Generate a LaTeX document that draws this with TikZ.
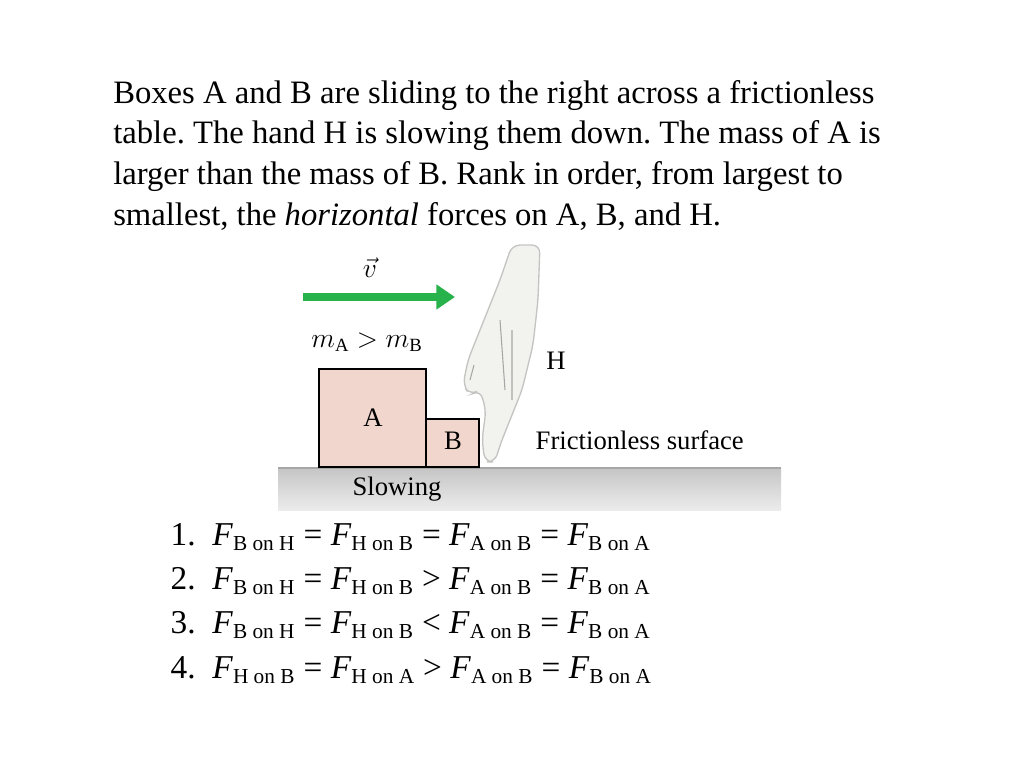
\documentclass[tikz,border=0pt]{standalone}
\usepackage{fontspec}
\setmainfont{Liberation Serif}
\setsansfont{Liberation Sans}
\usetikzlibrary{arrows.meta}
\definecolor{boxpink}{RGB}{240,214,204}
\definecolor{arrgreen}{RGB}{40,178,75}
\definecolor{handfill}{RGB}{242,242,238}
\frenchspacing
\tikzset{
  boxnode/.style={draw, fill=boxpink, line width=1.2pt},
  sflabel/.style={font=\fontsize{20}{20}\selectfont},
  eqline/.style={anchor=west, font=\fontsize{25}{28}\selectfont}
}
\newcommand{\Fsub}[1]{\textit{F}\textsubscript{\fontsize{16}{16}\selectfont #1}}
\begin{document}
\begin{tikzpicture}[x=0.75pt, y=-0.75pt]
\useasboundingbox (0,0) rectangle (1024,768);
% question
\node[anchor=north west, align=left, inner sep=0pt, font=\fontsize{24.5}{30.5}\selectfont](Q)at(113,80){Boxes A and B are sliding to the right across a frictionless\\table. The hand H is slowing them down. The mass of A is\\larger than the mass of B. Rank in order, from largest to\\smallest, the \textit{horizontal} forces on A, B, and H.};
%
% table
\shade[top color=gray!45, bottom color=gray!15](278,468) rectangle (781,510);
\draw[gray!70, line width=1pt](278,468) -- (781,468);
\node[sflabel](S)at(397,489){Slowing};
\node[sflabel, anchor=west](FS)at(531,440){Frictionless surface};
% boxes
\node[boxnode, minimum width=80pt, minimum height=73.5pt, inner sep=0pt](A)at(372.5,418){};
\node[sflabel](AL)at(373,418){A};
\node[boxnode, minimum width=39.75pt, minimum height=36pt, inner sep=0pt](B)at(452.5,443){};
\node[sflabel](BL)at(453,441){B};
% velocity
\coordinate (V0) at (303,297);
\coordinate (V1) at (455,297);
\draw[arrgreen, line width=6pt, -{Triangle[length=14pt,width=18pt]}](V0) -- (V1);
\node[font=\fontsize{20}{20}\selectfont](VL)at(370,268){$\vec{v}$};
\node[font=\fontsize{20}{20}\selectfont](M)at(367,342){$m_{\mathrm{A}} > m_{\mathrm{B}}$};
\node[sflabel](H)at(556,361){H};
% hand
\draw[handfill!60!gray, fill=handfill, line width=1pt, rounded corners=6pt]
  (512,245) -- (540,245) -- (538,300) -- (533,345) -- (522,390) -- (510,420)
  -- (500,445) -- (495,462) -- (485,462) -- (482,440) -- (486,410) -- (480,390)
  -- (470,395) -- (463,385) -- (468,360) -- (478,335) -- (490,305) -- (500,280) -- cycle;
\draw[gray!70, line width=0.8pt](470,380) -- (474,365) (500,320) -- (505,390) (512,330) -- (512,400);
%
% answers
\node[eqline](E1)at(166,537){1.\ \ \Fsub{B on H} = \Fsub{H on B} = \Fsub{A on B} = \Fsub{B on A}};
\node[eqline](E2)at(166,581){2.\ \ \Fsub{B on H} = \Fsub{H on B} > \Fsub{A on B} = \Fsub{B on A}};
\node[eqline](E3)at(166,625){3.\ \ \Fsub{B on H} = \Fsub{H on B} < \Fsub{A on B} = \Fsub{B on A}};
\node[eqline](E4)at(166,670){4.\ \ \Fsub{H on B} = \Fsub{H on A} > \Fsub{A on B} = \Fsub{B on A}};
\end{tikzpicture}
\end{document}
